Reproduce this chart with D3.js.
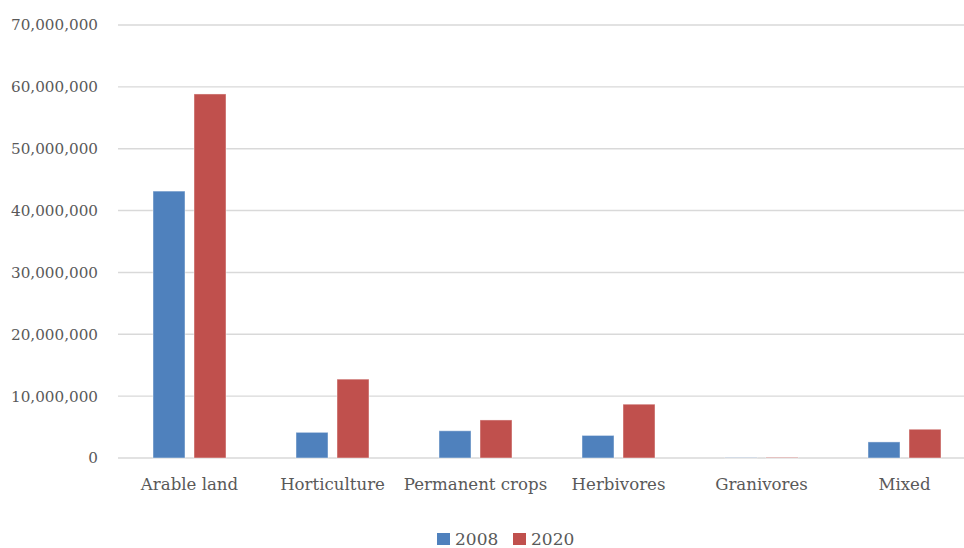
<!DOCTYPE html>
<html>
<head>
<meta charset="utf-8">
<script src="https://cdn.jsdelivr.net/npm/d3@7"></script>
<style>
  html, body { margin: 0; padding: 0; background: #ffffff; }
  svg { display: block; }
  text { font-family: "DejaVu Serif", "Liberation Serif", serif; fill: #595959; }
</style>
</head>
<body>
<script>
// Farm types and their totals for the two survey years
const categories = ["Arable land", "Horticulture", "Permanent crops", "Herbivores", "Granivores", "Mixed"];
const series = ["2008", "2020"];
const values2008 = [43150000, 4150000, 4400000, 3650000, 40000, 2600000];
const values2020 = [58850000, 12750000, 6150000, 8700000, 90000, 4650000];
const yTicks = [0, 10000000, 20000000, 30000000, 40000000, 50000000, 60000000, 70000000];
const colors = ["#4f81bd", "#c0504d"];

const W = 964, H = 548;
const svg = d3.select("body").append("svg").attr("width", W).attr("height", H);

const x0 = d3.scaleBand().domain(categories).range([118, 976]).paddingInner(0).paddingOuter(0);
const y = d3.scaleLinear().domain([0, 70000000]).range([458, 25]);
const fmt = d3.format(",");

// Horizontal gridlines
svg.append("g").selectAll("line").data(yTicks).join("line")
  .attr("x1", 118).attr("x2", W)
  .attr("y1", d => y(d)).attr("y2", d => y(d))
  .attr("stroke", "#d9d9d9").attr("stroke-width", 1.4);

// Value axis
const yAxis = svg.append("g").attr("transform", "translate(98,0)")
  .call(d3.axisLeft(y).tickValues(yTicks).tickFormat(fmt).tickSize(0).tickPadding(0));
yAxis.select(".domain").remove();
yAxis.selectAll("text").attr("font-size", 15.2).attr("fill", "#595959")
  .style("font-family", "'DejaVu Serif', serif");

// Grouped bars: two bars per farm type with a small gap between them
const barW = 32, gap = 9;
const groupW = barW * 2 + gap;
const data = categories.map((c, i) => ({ c, vals: [values2008[i], values2020[i]] }));

const groups = svg.append("g").selectAll("g").data(data).join("g")
  .attr("transform", d => `translate(${x0(d.c) + (x0.bandwidth() - groupW) / 2},0)`);

groups.selectAll("rect").data(d => d.vals.map((v, k) => ({ v, k }))).join("rect")
  .attr("x", d => d.k * (barW + gap))
  .attr("width", barW)
  .attr("y", d => y(d.v))
  .attr("height", d => y(0) - y(d.v))
  .attr("fill", d => colors[d.k])
  .attr("stroke", "#ffffff").attr("stroke-opacity", 0.45).attr("stroke-width", 1);

// Category axis labels
const xAxis = svg.append("g").attr("transform", "translate(0,458)")
  .call(d3.axisBottom(x0).tickSize(0).tickPadding(20));
xAxis.select(".domain").remove();
xAxis.selectAll("text").attr("font-size", 16.6).attr("fill", "#595959")
  .style("font-family", "'DejaVu Serif', serif");

// Legend
const legend = svg.append("g");
const legendX = [437, 513];
series.forEach((s, i) => {
  legend.append("rect").attr("x", legendX[i]).attr("y", 533).attr("width", 13).attr("height", 12)
    .attr("fill", colors[i]);
  legend.append("text").attr("x", legendX[i] + 18).attr("y", 545)
    .attr("font-size", 17).text(s);
});
</script>
</body>
</html>
